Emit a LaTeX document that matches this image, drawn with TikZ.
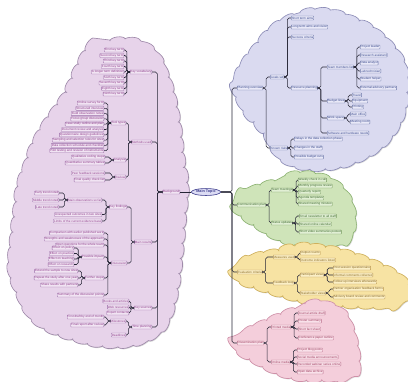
\documentclass[tikz,border=0pt]{standalone}
\usepackage{fontspec}
\setmainfont{Liberation Sans}
\usepackage{tikz}
\usetikzlibrary{calc, positioning}
\usetikzlibrary{decorations.pathmorphing}
\usetikzlibrary{shadows}
\usepgflibrary{shapes.geometric}

\definecolor{purplefill}{HTML}{E7D3EA}
\definecolor{purpleedge}{HTML}{9F8AAA}
\definecolor{purplenode}{HTML}{F1E4F3}
\definecolor{purpleline}{HTML}{9A6CA8}
\definecolor{purpletext}{HTML}{8E3C8A}
\definecolor{bluefill}{HTML}{DADAF0}
\definecolor{blueedge}{HTML}{8E8EB8}
\definecolor{bluenode}{HTML}{E9E9F8}
\definecolor{blueline}{HTML}{6A76A8}
\definecolor{bluetext}{HTML}{35458A}
\definecolor{greenfill}{HTML}{CFE4B9}
\definecolor{greenedge}{HTML}{8EB474}
\definecolor{greennode}{HTML}{E1EFD4}
\definecolor{greenline}{HTML}{72985A}
\definecolor{greentext}{HTML}{3D6A2C}
\definecolor{yellowfill}{HTML}{F7E3A3}
\definecolor{yellowedge}{HTML}{CFB05C}
\definecolor{yellownode}{HTML}{FBEFC6}
\definecolor{yellowline}{HTML}{B8944A}
\definecolor{yellowtext}{HTML}{85651E}
\definecolor{pinkfill}{HTML}{F4CEDB}
\definecolor{pinkedge}{HTML}{CF90A8}
\definecolor{pinknode}{HTML}{F9E1EA}
\definecolor{pinkline}{HTML}{BA6E8A}
\definecolor{pinktext}{HTML}{9E3A5C}
\definecolor{linkcol}{HTML}{262636}
\definecolor{rootfill}{HTML}{DCDCF4}
\definecolor{rootline}{HTML}{3C3C8C}

\def\px{0.03cm}
\tikzset{
    cloudarea/.style = {
        draw=#1edge, fill=#1fill, line width=0.55pt,
        drop shadow={shadow xshift=0.7pt, shadow yshift=-0.7pt, opacity=0.3},
        decorate, decoration={bumps, segment length=26pt, amplitude=2.6pt}
    },
    topic/.style = {
        draw=#1line, fill=#1node, text=#1text, rectangle, rounded corners=0.5pt,
        line width=0.3pt, inner sep=0.45pt, minimum height=3.5pt,
        font=\fontsize{2.6}{3}\selectfont
    },
    ltopic/.style = {topic=#1, anchor=east},
    rtopic/.style = {topic=#1, anchor=west},
    link/.style = {draw=linkcol, line width=0.45pt, rounded corners=1.5pt},
    root/.style = {
        ellipse, draw=rootline, fill=rootfill, text=rootline, line width=0.5pt,
        inner sep=0.6pt, font=\fontsize{3.2}{4}\selectfont\bfseries
    },
}
% fan from a parent to its children, left or right
\def\fanL#1#2{
    \foreach \c in {#2}{\draw[link] (#1.west) -- ++(-3,0) |- (\c.east);}
    \fill[linkcol] (#1.west) circle (0.65pt);
}
\def\fanR#1#2{
    \foreach \c in {#2}{\draw[link] (#1.east) -- ++(3,0) |- (\c.west);}
    \fill[linkcol] (#1.east) circle (0.65pt);
}

\begin{document}
\begin{tikzpicture}[x=\px, y=-\px]
    \fill[white] (0,0) rectangle (408,382);
    \useasboundingbox (0,0) rectangle (408,382);

    % Draw the clouds
    \path[cloudarea=purple] plot[smooth cycle, tension=0.7] coordinates {
        (90,47) (110,41) (133,41) (151,50) (163,67) (172,92) (178,122) (182,155)
        (186,185) (184,215) (181,250) (177,285) (170,314) (158,332) (135,343)
        (105,345) (75,339) (48,329) (30,315) (19,295) (11,272) (12,242) (15,215)
        (18,190) (24,170) (31,150) (41,130) (54,110) (64,95) (73,76) (82,58)};
    \path[cloudarea=blue] plot[smooth cycle, tension=0.7] coordinates {
        (281,22) (300,13) (325,11) (348,17) (368,26) (388,42) (402,62) (406,85)
        (404,108) (396,128) (382,145) (362,158) (338,166) (312,168) (290,163)
        (276,152) (265,135) (250,118) (239,100) (235,86) (242,66) (256,46) (268,32)};
    \path[cloudarea=green] plot[smooth cycle, tension=0.7] coordinates {
        (272,182) (285,176) (305,174) (325,178) (340,188) (350,203) (353,222)
        (348,237) (330,244) (305,245) (283,240) (265,231) (248,220) (236,208)
        (240,196) (255,188)};
    \path[cloudarea=yellow] plot[smooth cycle, tension=0.7] coordinates {
        (272,252) (295,246) (320,247) (345,252) (368,260) (390,270) (404,282)
        (405,296) (394,304) (370,306) (340,305) (310,302) (285,296) (262,289)
        (243,282) (235,272) (243,262) (256,256)};
    \path[cloudarea=pink] plot[smooth cycle, tension=0.7] coordinates {
        (285,313) (305,304) (325,304) (342,313) (352,332) (357,352) (357,367)
        (348,376) (330,379) (305,379) (282,374) (262,365) (244,355) (236,344)
        (246,332) (265,322)};

    % Place the centre and the left side
    \node[root] (root) at (206,192) {Main Topic};
    \node[ltopic=purple] (left) at (180,192) {Background};
    \draw[link] (root.west) -- (left.east);
    \foreach \n/\y/\lab in {b1/72/Key vocabulary, b2/142/Methods used, b3/242/Main results,
                            b4/308/Key sources, b5/327/Time planning}
        \node[ltopic=purple] (\n) at (152,\y) {\lab};
    \foreach \n in {b1,b2,b3,b4,b5}
        \draw[link] (left.west) -- ++(-5,0) |- (\n.east);
    \fill[linkcol] (left.west) circle (0.65pt);

    \foreach \i/\y/\lab in {1/50/First key term, 2/55.5/Second key term, 3/61/Third key term,
                            4/66.5/Fourth key term, 5/72/A longer term definition, 6/77.5/Sixth key term,
                            7/83/Seventh key term, 8/88.5/Eighth key term, 9/94/Ninth key term}
        \node[ltopic=purple] (b1-\i) at (124,\y) {\lab};
    \fanL{b1}{b1-1,b1-2,b1-3,b1-4,b1-5,b1-6,b1-7,b1-8,b1-9}

    \node[ltopic=purple] (b2a) at (126,123) {Tool types};
    \node[ltopic=purple] (b2b) at (126,160) {Analysis};
    \node[ltopic=purple] (b2c) at (126,177) {Review};
    \fanL{b2}{b2a,b2b,b2c}
    \foreach \i/\y/\lab in {1/103/Online survey form, 2/108.3/Structured interview,
                            3/113.6/Field observation notes, 4/118.9/Focus group discussion,
                            5/124.2/Case study outline and plan, 6/129.5/Document review and analysis,
                            7/134.8/Questionnaire design guidelines, 8/140.1/Sampling and selection rules for sites,
                            9/145.4/Data collection schedule and checklist, 10/150.7/Pilot testing and revision of instruments}
        \node[ltopic=purple] (b2a-\i) at (104,\y) {\lab};
    \fanL{b2a}{b2a-1,b2a-2,b2a-3,b2a-4,b2a-5,b2a-6,b2a-7,b2a-8,b2a-9,b2a-10}
    \node[ltopic=purple] (b2b-1) at (105,157) {Qualitative coding steps};
    \node[ltopic=purple] (b2b-2) at (105,163) {Quantitative summary tables};
    \fanL{b2b}{b2b-1,b2b-2}
    \node[ltopic=purple] (b2c-1) at (105,173) {Peer feedback sessions};
    \node[ltopic=purple] (b2c-2) at (105,180) {Final quality check list};
    \fanL{b2c}{b2c-1,b2c-2}

    \node[ltopic=purple] (b3a) at (127,207) {Key findings};
    \node[ltopic=purple] (b3b) at (127,263) {Discussion};
    \fanL{b3}{b3a,b3b}
    \node[ltopic=purple] (b3a1) at (102,200) {Main observations so far};
    \node[ltopic=purple] (b3a2) at (102,214.5) {Unexpected outcomes in two sites};
    \node[ltopic=purple] (b3a3) at (102,221) {Limits of the current evidence base};
    \fanL{b3a}{b3a1,b3a2,b3a3}
    \foreach \i/\y/\lab in {1/193/Early trend noted, 2/200/Middle trend noted, 3/207/Late trend noted}
        \node[ltopic=purple] (b3a1-\i) at (59,\y) {\lab};
    \fanL{b3a1}{b3a1-1,b3a1-2,b3a1-3}
    \node[ltopic=purple] (b3b-1) at (104,233) {Comparison with earlier published work};
    \node[ltopic=purple] (b3b-2) at (104,239) {Strengths and weaknesses of the approach};
    \node[ltopic=purple] (b3b-3) at (104,245) {Open questions for the whole team};
    \node[ltopic=purple] (b3b1) at (104,257) {Possible impact};
    \node[ltopic=purple] (b3b2) at (104,278) {Further steps};
    \node[ltopic=purple] (b3b-6) at (104,295) {Summary of the discussion points};
    \fanL{b3b}{b3b-1,b3b-2,b3b-3,b3b1,b3b2,b3b-6}
    \foreach \i/\y/\lab in {1/248/Effect on policy, 2/253.5/Effect on practice,
                            3/259/Effect on teaching, 4/264.5/Effect on research}
        \node[ltopic=purple] (b3b1-\i) at (74,\y) {\lab};
    \fanL{b3b1}{b3b1-1,b3b1-2,b3b1-3,b3b1-4}
    \foreach \i/\y/\lab in {1/271/Extend the sample to new sites, 2/278/Repeat the study after one year,
                            3/285/Share results with partners}
        \node[ltopic=purple] (b3b2-\i) at (78,\y) {\lab};
    \fanL{b3b2}{b3b2-1,b3b2-2,b3b2-3}

    \foreach \i/\y/\lab in {1/301/Books and articles, 2/307/Web resources, 3/313/Expert contacts}
        \node[ltopic=purple] (b4-\i) at (129,\y) {\lab};
    \fanL{b4}{b4-1,b4-2,b4-3}

    \node[ltopic=purple] (b5a) at (126,321) {Milestones};
    \node[ltopic=purple] (b5b) at (126,335) {Deadlines};
    \fanL{b5}{b5a,b5b}
    \node[ltopic=purple] (b5a-1) at (104,317) {First draft by end of month};
    \node[ltopic=purple] (b5a-2) at (104,325) {Final report after review};
    \fanL{b5a}{b5a-1,b5a-2}

    % Place the right side
    \coordinate (rtrunk) at (232,192);
    \node[rtopic=blue] (r1) at (237,88) {Planning overview};
    \node[rtopic=green] (r2) at (237,205) {Communication plan};
    \node[rtopic=yellow] (r3) at (237,272) {Evaluation criteria};
    \node[rtopic=pink] (r4) at (237,343) {Dissemination plan};
    \foreach \n in {r1,r2,r3,r4}
        \draw[link] (root.east) -- (rtrunk) |- (\n.west);

    % blue
    \node[rtopic=blue] (r1a) at (270,77) {Goals set};
    \node[rtopic=blue] (r1b) at (270,148) {Known risks};
    \fanR{r1}{r1a,r1b}
    \node[rtopic=blue] (r1a-1) at (291,18) {Short term aims};
    \node[rtopic=blue] (r1a-2) at (291,27) {Long term aims and vision};
    \node[rtopic=blue] (r1a-3) at (291,37) {Success criteria};
    \node[rtopic=blue] (res) at (291,88) {Resource planning};
    \fanR{r1a}{r1a-1,r1a-2,r1a-3,res}
    \node[rtopic=blue] (c1) at (327,67) {Team members list};
    \node[rtopic=blue] (c2) at (327,101) {Budget lines};
    \node[rtopic=blue] (c3) at (327,118) {Work space};
    \node[rtopic=blue] (c4) at (327,133) {Software and hardware needs};
    \fanR{res}{c1,c2,c3,c4}
    \foreach \i/\y/\lab in {1/47/Project leader, 2/55/Research assistant, 3/63/Data analyst,
                            4/71/Lab technician, 5/79/Student helper, 6/88/External advisory partners}
        \node[rtopic=blue] (c1-\i) at (360,\y) {\lab};
    \fanR{c1}{c1-1,c1-2,c1-3,c1-4,c1-5,c1-6}
    \foreach \i/\y/\lab in {1/95/Travel, 2/101/Equipment, 3/107/Printing}
        \node[rtopic=blue] (c2-\i) at (352,\y) {\lab};
    \fanR{c2}{c2-1,c2-2,c2-3}
    \node[rtopic=blue] (c3-1) at (350,114) {Main office};
    \node[rtopic=blue] (c3-2) at (350,122) {Meeting room};
    \fanR{c3}{c3-1,c3-2}
    \foreach \i/\y/\lab in {1/139/Delays in the data collection phase, 2/148/Changes in the staff,
                            3/157/Possible budget cuts}
        \node[rtopic=blue] (r1b-\i) at (294,\y) {\lab};
    \fanR{r1b}{r1b-1,r1b-2,r1b-3}

    % green
    \node[rtopic=green] (g1) at (271,190) {Team meetings};
    \node[rtopic=green] (g2) at (271,223) {Status updates};
    \fanR{r2}{g1,g2}
    \foreach \i/\y/\lab in {1/180/Weekly check in call, 2/186/Monthly progress review, 3/192/Quarterly report,
                            4/198/Agenda templates, 5/204/Shared meeting minutes}
        \node[rtopic=green] (g1-\i) at (298,\y) {\lab};
    \fanR{g1}{g1-1,g1-2,g1-3,g1-4,g1-5}
    \foreach \i/\y/\lab in {1/216/Email newsletter to all staff, 2/224/Shared online calendar,
                            3/232/Short video summaries posted}
        \node[rtopic=green] (g2-\i) at (299,\y) {\lab};
    \fanR{g2}{g2-1,g2-2,g2-3}

    % yellow
    \node[rtopic=yellow] (y1) at (273,257) {Measures used};
    \node[rtopic=yellow] (y2) at (273,283) {Feedback loop};
    \fanR{r3}{y1,y2}
    \node[rtopic=yellow] (y1-1) at (300,253) {Output counts};
    \node[rtopic=yellow] (y1-2) at (300,260) {Outcome indicators listed};
    \fanR{y1}{y1-1,y1-2}
    \node[rtopic=yellow] (y3) at (300,275) {Participant views};
    \node[rtopic=yellow] (y4) at (300,293) {Stakeholder views};
    \fanR{y2}{y3,y4}
    \foreach \i/\y/\lab in {1/268/Post session questionnaire, 2/275/Informal comments collected,
                            3/282/Follow up interviews afterwards}
        \node[rtopic=yellow] (y3-\i) at (333,\y) {\lab};
    \fanR{y3}{y3-1,y3-2,y3-3}
    \node[rtopic=yellow] (y4-1) at (333,289) {Partner organisation feedback forms};
    \node[rtopic=yellow] (y4-2) at (333,297) {Advisory board review and comments};
    \fanR{y4}{y4-1,y4-2}

    % pink
    \node[rtopic=pink] (p1) at (271,327) {Printed media};
    \node[rtopic=pink] (p2) at (271,362) {Online media};
    \fanR{r4}{p1,p2}
    \foreach \i/\y/\lab in {1/313/Journal article draft, 2/321/Poster summary, 3/329/Short fact sheet,
                            4/338/Conference paper outline}
        \node[rtopic=pink] (p1-\i) at (298,\y) {\lab};
    \fanR{p1}{p1-1,p1-2,p1-3,p1-4}
    \foreach \i/\y/\lab in {1/350/Project blog posts, 2/357/Social media announcements,
                            3/364/Recorded webinar series online, 4/372/Open data archive}
        \node[rtopic=pink] (p2-\i) at (297,\y) {\lab};
    \fanR{p2}{p2-1,p2-2,p2-3,p2-4}
\end{tikzpicture}
\end{document}
